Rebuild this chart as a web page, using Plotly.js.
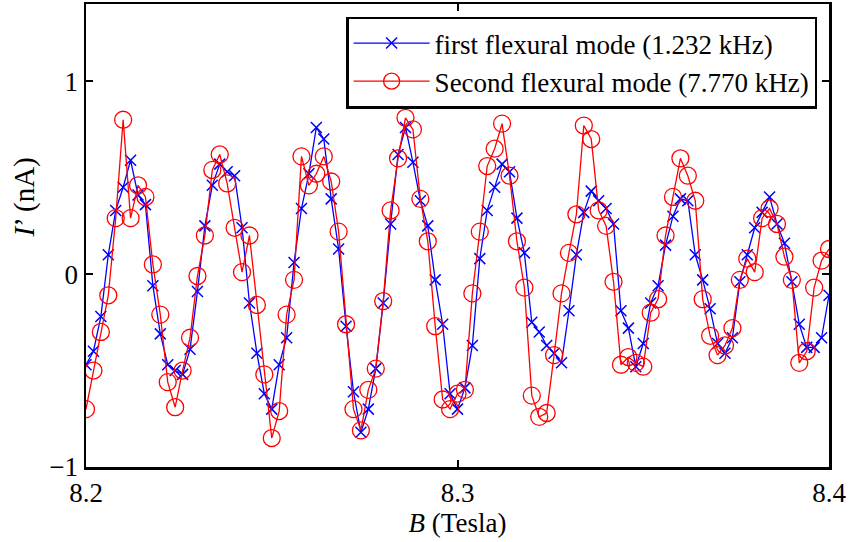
<!DOCTYPE html>
<html>
<head>
<meta charset="utf-8">
<script src="https://cdn.plot.ly/plotly-3.0.1.min.js"></script>
<style>html,body{margin:0;padding:0;background:#fff;}#chart{width:850px;height:542px;}</style>
</head>
<body>
<div id="chart"></div>
<script>
// Magnetic field B (Tesla), sampled every 0.002 T
const B = [
  8.200, 8.202, 8.204, 8.206, 8.208, 8.210, 8.212, 8.214, 8.216, 8.218,
  8.220, 8.222, 8.224, 8.226, 8.228, 8.230, 8.232, 8.234, 8.236, 8.238,
  8.240, 8.242, 8.244, 8.246, 8.248, 8.250, 8.252, 8.254, 8.256, 8.258,
  8.260, 8.262, 8.264, 8.266, 8.268, 8.270, 8.272, 8.274, 8.276, 8.278,
  8.280, 8.282, 8.284, 8.286, 8.288, 8.290, 8.292, 8.294, 8.296, 8.298,
  8.300, 8.302, 8.304, 8.306, 8.308, 8.310, 8.312, 8.314, 8.316, 8.318,
  8.320, 8.322, 8.324, 8.326, 8.328, 8.330, 8.332, 8.334, 8.336, 8.338,
  8.340, 8.342, 8.344, 8.346, 8.348, 8.350, 8.352, 8.354, 8.356, 8.358,
  8.360, 8.362, 8.364, 8.366, 8.368, 8.370, 8.372, 8.374, 8.376, 8.378,
  8.380, 8.382, 8.384, 8.386, 8.388, 8.390, 8.392, 8.394, 8.396, 8.398,
  8.400
];

// First flexural mode (1.232 kHz), I' in nA
const firstMode = [
  -0.47, -0.40, -0.22, 0.10, 0.33, 0.45, 0.59, 0.41, 0.36, -0.06,
  -0.31, -0.47, -0.50, -0.52, -0.39, -0.09, 0.25, 0.46, 0.57, 0.53,
  0.51, 0.24, -0.15, -0.41, -0.62, -0.70, -0.47, -0.33, 0.06, 0.34,
  0.52, 0.76, 0.70, 0.39, 0.13, -0.27, -0.61, -0.82, -0.70, -0.49,
  -0.15, 0.26, 0.62, 0.76, 0.58, 0.38, 0.25, -0.03, -0.26, -0.62,
  -0.70, -0.59, -0.37, 0.08, 0.33, 0.45, 0.57, 0.53, 0.29, 0.11,
  -0.25, -0.30, -0.37, -0.41, -0.46, -0.19, 0.10, 0.32, 0.43, 0.38,
  0.34, 0.26, -0.19, -0.28, -0.48, -0.36, -0.15, -0.06, 0.15, 0.30,
  0.39, 0.38, 0.10, -0.03, -0.18, -0.36, -0.41, -0.33, -0.04, 0.10,
  0.24, 0.32, 0.40, 0.26, 0.16, -0.04, -0.26, -0.38, -0.38, -0.33,
  -0.11
];

// Second flexural mode (7.770 kHz), I' in nA
const secondMode = [
  -0.70, -0.50, -0.30, -0.11, 0.29, 0.80, 0.29, 0.46, 0.40, 0.05,
  -0.21, -0.56, -0.69, -0.50, -0.33, -0.01, 0.20, 0.54, 0.62, 0.47,
  0.24, 0.01, 0.20, -0.16, -0.52, -0.85, -0.71, -0.21, -0.03, 0.61,
  0.46, 0.52, 0.61, 0.48, 0.22, -0.26, -0.70, -0.81, -0.60, -0.49,
  -0.14, 0.33, 0.60, 0.81, 0.75, 0.39, 0.17, -0.27, -0.65, -0.70,
  -0.62, -0.60, -0.10, 0.22, 0.56, 0.65, 0.78, 0.51, 0.17, -0.07,
  -0.63, -0.74, -0.72, -0.42, -0.10, 0.11, 0.31, 0.77, 0.70, 0.33,
  0.25, -0.04, -0.47, -0.43, -0.46, -0.48, -0.20, -0.13, 0.20, 0.40,
  0.60, 0.51, 0.38, -0.13, -0.32, -0.42, -0.37, -0.28, -0.03, 0.08,
  0.01, 0.29, 0.34, 0.26, 0.09, -0.03, -0.46, -0.40, -0.07, 0.07,
  0.13
];

const seriesNames = ["first flexural mode (1.232 kHz)", "Second flexural mode (7.770 kHz)"];
const xTicks = [8.2, 8.3, 8.4];
const xTickLabels = ["8.2", "8.3", "8.4"];
const yTicks = [-1, 0, 1];
const yTickLabels = ["\u22121", "0", "1"];

const serif = "Liberation Serif, Times New Roman, serif";

const traces = [
  {
    x: B, y: firstMode, name: seriesNames[0], type: "scatter", mode: "lines+markers",
    line: {color: "#0000ff", width: 1.3},
    marker: {symbol: "x-thin-open", size: 11, color: "#0000ff", line: {color: "#0000ff", width: 1.5}}
  },
  {
    x: B, y: secondMode, name: seriesNames[1], type: "scatter", mode: "lines+markers",
    line: {color: "#ff0000", width: 1.3},
    marker: {symbol: "circle-open", size: 17, color: "#ff0000", line: {color: "#ff0000", width: 1.3}}
  }
];

const layout = {
  width: 850, height: 542,
  margin: {l: 86, r: 21, t: 4, b: 75, pad: 0},
  paper_bgcolor: "#ffffff", plot_bgcolor: "#ffffff",
  font: {family: serif, size: 27, color: "#000000"},
  showlegend: true,
  legend: {
    x: 0.984, y: 0.973, xanchor: "right", yanchor: "top",
    bgcolor: "#ffffff", bordercolor: "#000000", borderwidth: 2.5,
    font: {family: serif, size: 27, color: "#000000"},
    itemwidth: 76, tracegroupgap: 0
  },
  xaxis: {
    range: [8.2, 8.4], tickmode: "array", tickvals: xTicks, ticktext: xTickLabels,
    showgrid: false, zeroline: false, showline: true, linecolor: "#000000", linewidth: 2.5,
    mirror: "ticks", ticks: "inside", ticklen: 7, tickwidth: 2, tickcolor: "#000000",
    tickfont: {family: serif, size: 27, color: "#000000"},
    title: {text: "<i>B</i> (Tesla)", font: {family: serif, size: 27, color: "#000000"}, standoff: 3}
  },
  yaxis: {
    range: [-1, 1.4], tickmode: "array", tickvals: yTicks, ticktext: yTickLabels,
    showgrid: false, zeroline: false, showline: true, linecolor: "#000000", linewidth: 2.5,
    mirror: "ticks", ticks: "inside", ticklen: 7, tickwidth: 2, tickcolor: "#000000",
    tickfont: {family: serif, size: 27, color: "#000000"}
  },
  annotations: [
    {
      text: "<i>I</i>\u2019 (nA)", xref: "paper", yref: "paper", x: -0.083, y: 0.583,
      xanchor: "center", yanchor: "middle", textangle: -90, showarrow: false,
      font: {family: serif, size: 29, color: "#000000"}
    }
  ]
};

Plotly.newPlot("chart", traces, layout, {displayModeBar: false, staticPlot: true});
</script>
</body>
</html>
